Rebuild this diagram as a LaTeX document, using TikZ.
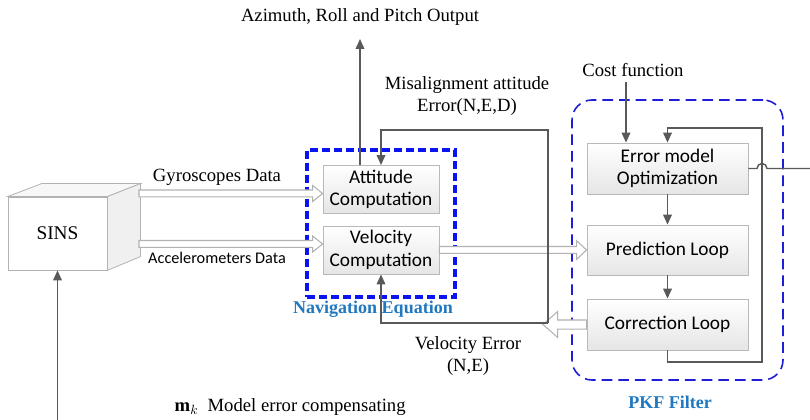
\documentclass[tikz,border=0pt]{standalone}
\usepackage{fontspec}
\setmainfont{Liberation Serif}
\newfontfamily\calfont{Carlito}
\usetikzlibrary{arrows.meta,calc}
\definecolor{linegray}{HTML}{595959}
\definecolor{labelblue}{HTML}{1F78C0}
\definecolor{navblue}{HTML}{0A14F0}
\definecolor{pkfblue}{HTML}{1E1ED8}

\begin{document}
\begin{tikzpicture}[x=0.75pt,y=-0.75pt,>={Triangle[length=7.5pt,width=6.5pt]},
  cell/.style={draw=gray!55,top color=white,bottom color=gray!20,line width=0.6pt,align=center,font=\calfont\fontsize{14.5}{17}\selectfont},
  flow/.style={draw=linegray,line width=1.1pt,->},
  wire/.style={draw=linegray,line width=1.1pt},
  lbl/.style={align=center,font=\fontsize{14}{17}\selectfont},
  grouplbl/.style={text=labelblue,font=\bfseries\fontsize{13.5}{16}\selectfont},
  hollow/.style n args={3}{draw=gray!60,fill=white,line width=0.8pt,
    to path={let \p1=(\tikztostart),\p2=(\tikztotarget),\n1={sign(\x2-\x1)} in
      (\x1,{\y1+#1}) -- ({\x2-\n1*#3},{\y1+#1}) -- ({\x2-\n1*#3},{\y1+#2}) -- (\x2,\y1)
      -- ({\x2-\n1*#3},{\y1-#2}) -- ({\x2-\n1*#3},{\y1-#1}) -- (\x1,{\y1-#1}) -- cycle}}]
\useasboundingbox (0,0) rectangle (810,420);

% SINS block drawn as a cube
\node[draw=gray!60,fill=white,line width=0.6pt,minimum width=74.25pt,minimum height=54.75pt,font=\fontsize{14.5}{17}\selectfont] (sins) at (57.5,233.5) {SINS};
\draw[draw=gray!60,fill=gray!6,line width=0.6pt] (sins.north west) -- ++(34,-13) -- ++(99,0) -- (sins.north east) -- cycle;
\draw[draw=gray!60,fill=gray!12,line width=0.6pt] (sins.north east) -- ++(33,-13) -- ++(0,73) -- (sins.south east) -- cycle;
\coordinate (sinsR) at (139,233);

% navigation equation
\node[draw=navblue,dash pattern=on 6pt off 3pt,line width=2.4pt,minimum width=111pt,minimum height=110.25pt] (nav) at (381,223.5) {};
\node[grouplbl] (navlbl) at (373,309) {Navigation Equation};
\node[cell,minimum width=87pt,minimum height=33.75pt] (att) at (381,189.5) {Attitude\\Computation};
\node[cell,minimum width=87pt,minimum height=33pt] (vel) at (381,250) {Velocity\\Computation};

% PKF filter
\node[draw=pkfblue,dash pattern=on 8pt off 4.5pt,line width=1.2pt,rounded corners=15pt,minimum width=158.25pt,minimum height=210pt] (pkf) at (677.5,240) {};
\node[grouplbl] (pkflbl) at (670,402) {PKF Filter};
\node[cell,minimum width=120.75pt,minimum height=38.25pt] (emo) at (667.5,168.5) {Error model\\Optimization};
\node[cell,minimum width=120.75pt,minimum height=37.5pt] (pred) at (667.5,250) {Prediction Loop};
\node[cell,minimum width=120.75pt,minimum height=38.25pt] (corr) at (667.5,324.5) {Correction Loop};

% labels
\node[lbl] (az) at (360,17) {Azimuth, Roll and Pitch Output};
\node[lbl] (gyro) at (217,177) {Gyroscopes Data};
\node[font=\calfont\fontsize{12.2}{14}\selectfont] (acc) at (217,258) {Accelerometers Data};
\node[lbl] (mis) at (467,96) {Misalignment attitude\\Error(N,E,D)};
\node[lbl] (velerr) at (468,356) {Velocity Error\\(N,E)};
\node[lbl] (cost) at (633,70) {Cost function};
\node[lbl,anchor=west] (mk) at (170,407) {$\mathbf{m}_k$\ \ Model error compensating};

% hollow data arrows
\coordinate (gIn) at ($(att.west)+(0,4)$);
\coordinate (aIn) at ($(vel.west)+(0,-6)$);
\coordinate (veTip) at (543,324.5);
\draw[hollow={2.6pt}{6pt}{7.5pt}] (gIn -| sinsR) to (gIn);
\draw[hollow={2.6pt}{6pt}{7.5pt}] (aIn -| sinsR) to (aIn);
\draw[hollow={2.6pt}{7pt}{7.5pt}] (vel.east) to (pred.west);
\draw[hollow={3.4pt}{9.75pt}{11pt}] (corr.west) to (veTip);

% feedback of the errors
\coordinate (vc) at (548,323);
\coordinate (mc) at (548,130);
\draw[flow] (vc) -- (mc) -| (att.north);
\draw[flow] (vc) -| (vel.south);
\coordinate (azIn) at (360,39);
\draw[flow] (azIn |- att.north) -- (azIn);

% filter loop
\coordinate (cfIn) at (626,82);
\draw[flow] (cfIn) -- (cfIn |- emo.north);
\draw[flow] (emo) -- (pred);
\draw[flow] (pred) -- (corr);
\coordinate (fb) at (762,362);
\coordinate (fbt) at (762,128);
\draw[flow] (corr.south) |- (fb) -- (fbt) -| (emo.north);
\draw[wire] (emo.east) -- (757,168.5) arc[start angle=180,end angle=360,radius=5] -- (810,168.5);

% model error compensation back to SINS
\coordinate (mkIn) at (57.5,420);
\draw[flow] (mkIn) -- (sins.south);
\end{tikzpicture}
\end{document}
